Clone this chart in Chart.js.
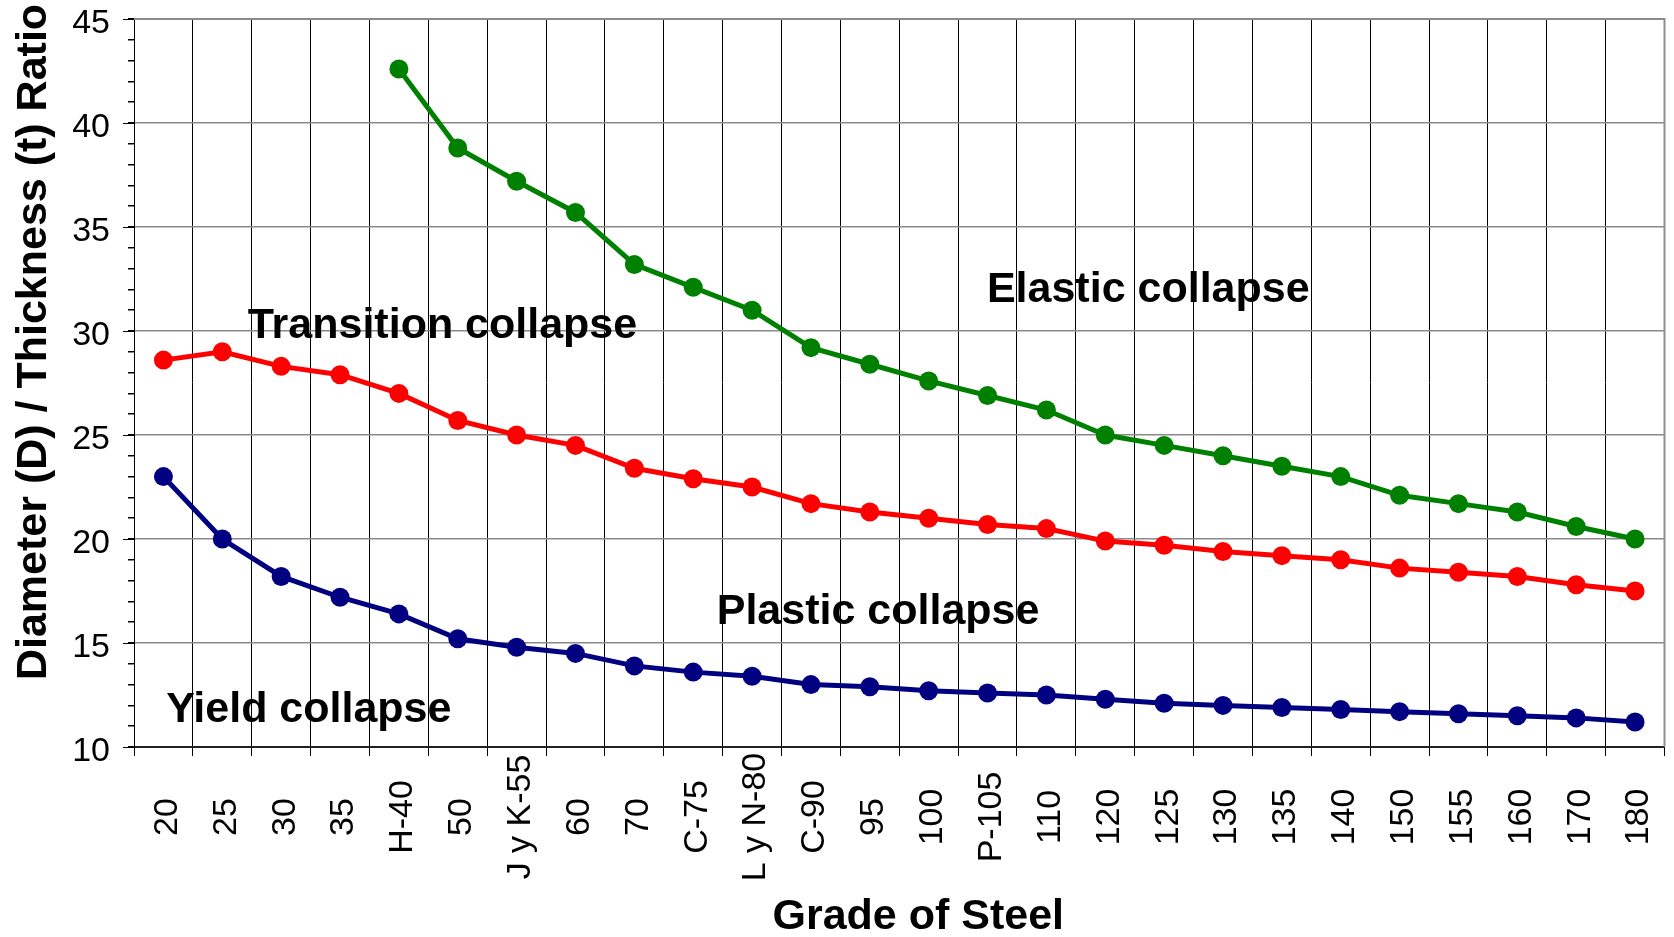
<!DOCTYPE html>
<html>
<head>
<meta charset="utf-8">
<script src="https://cdn.jsdelivr.net/npm/chart.js@4.4.1/dist/chart.umd.min.js"></script>
<style>
  html, body { margin: 0; padding: 0; background: #fff; }
  #wrap { width: 1674px; height: 937px; }
</style>
</head>
<body>
<div id="wrap"><canvas id="chart"></canvas></div>
<script>
const grades = ['20', '25', '30', '35', 'H-40', '50', 'J y K-55', '60', '70', 'C-75', 'L y N-80', 'C-90', '95', '100', 'P-105', '110', '120', '125', '130', '135', '140', '150', '155', '160', '170', '180'];
const elastic = [null, null, null, null, 42.6, 38.8, 37.2, 35.7, 33.2, 32.1, 31.0, 29.2, 28.4, 27.6, 26.9, 26.2, 25.0, 24.5, 24.0, 23.5, 23.0, 22.1, 21.7, 21.3, 20.6, 20.0];
const transition = [28.6, 29.0, 28.3, 27.9, 27.0, 25.7, 25.0, 24.5, 23.4, 22.9, 22.5, 21.7, 21.3, 21.0, 20.7, 20.5, 19.9, 19.7, 19.4, 19.2, 19.0, 18.6, 18.4, 18.2, 17.8, 17.5];
const yieldCollapse = [23.0, 20.0, 18.2, 17.2, 16.4, 15.2, 14.8, 14.5, 13.9, 13.6, 13.4, 13.0, 12.9, 12.7, 12.6, 12.5, 12.3, 12.1, 12.0, 11.9, 11.8, 11.7, 11.6, 11.5, 11.4, 11.2];
const yTicks = [10, 15, 20, 25, 30, 35, 40, 45];
const yTitle = 'Diameter (D) / Thickness (t) Ratio';
const xTitle = 'Grade of Steel';

const FONT = '"Liberation Sans", Arial, sans-serif';

// region names, placed in data space (category index, ratio)
const regions = [
    { text: 'Elastic collapse', at: [16.73, 31.95] },
    { text: 'Transition collapse', at: [4.74, 30.25] },
    { text: 'Plastic collapse', at: [12.14, 16.5] },
    { text: 'Yield collapse', at: [2.47, 11.75] }
];

const decor = {
    id: 'decor',
    afterDraw(chart) {
        const { ctx, chartArea: a, scales: { x, y } } = chart;
        ctx.save();

        // grey frame on top and right
        ctx.strokeStyle = '#8c8c8c';
        ctx.lineWidth = 2;
        ctx.beginPath();
        ctx.moveTo(a.left, a.top);
        ctx.lineTo(a.right, a.top);
        ctx.lineTo(a.right, a.bottom);
        ctx.stroke();

        // longer marks at the labelled y ticks
        ctx.strokeStyle = '#000';
        ctx.lineWidth = 1;
        yTicks.forEach(v => {
            const py = Math.round(y.getPixelForValue(v)) + 0.5;
            ctx.beginPath();
            ctx.moveTo(a.left - 11, py);
            ctx.lineTo(a.left, py);
            ctx.stroke();
        });

        ctx.fillStyle = '#000';
        ctx.textAlign = 'center';
        ctx.textBaseline = 'middle';

        // x labels, turned and centred on one line
        ctx.font = '34px ' + FONT;
        grades.forEach((g, i) => {
            ctx.save();
            ctx.translate(x.getPixelForValue(i) + 4, 817);
            ctx.rotate(-Math.PI / 2);
            ctx.fillText(g, 0, 0);
            ctx.restore();
        });

        ctx.font = 'bold 43px ' + FONT;
        // x title
        ctx.fillText(xTitle, (a.left + a.right) / 2 + 19, 917);

        // y title
        ctx.save();
        ctx.translate(34, 342);
        ctx.rotate(-Math.PI / 2);
        ctx.fillText(yTitle, 0, 0);
        ctx.restore();

        // region names
        regions.forEach(r => {
            ctx.fillText(r.text, x.getPixelForValue(r.at[0]), y.getPixelForValue(r.at[1]));
        });

        ctx.restore();
    }
};

const series = (label, data, color) => ({
    label: label,
    data: data,
    borderColor: color,
    backgroundColor: color,
    borderWidth: 5,
    pointRadius: 9.5,
    pointHoverRadius: 9.5,
    pointBorderWidth: 0,
    tension: 0,
    spanGaps: false
});

new Chart(document.getElementById('chart'), {
    type: 'line',
    data: {
        labels: grades,
        datasets: [
            series('Elastic collapse', elastic, '#008000'),
            series('Transition collapse', transition, '#ff0000'),
            series('Yield collapse', yieldCollapse, '#000080')
        ]
    },
    options: {
        responsive: true,
        maintainAspectRatio: false,
        animation: false,
        layout: { padding: { top: 19, right: 8, left: 0, bottom: 0 } },
        plugins: {
            legend: { display: false },
            tooltip: { enabled: false }
        },
        scales: {
            x: {
                type: 'category',
                offset: true,
                afterFit: (scale) => { scale.height = 190; },
                grid: { offset: true, color: '#000', lineWidth: 1, tickLength: 9, tickColor: '#000' },
                border: { color: '#222', width: 2 },
                ticks: { display: false }
            },
            y: {
                min: 10,
                max: 45,
                afterFit: (scale) => {
                    scale.width = 134;
                    scale.paddingTop = 0;
                    scale.paddingBottom = 0;
                },
                grid: {
                    color: (c) => yTicks.includes(c.tick.value) ? '#8a8a8a' : 'rgba(0,0,0,0)',
                    lineWidth: 1.5,
                    tickLength: 6,
                    tickColor: '#000'
                },
                border: { color: '#000', width: 1 },
                ticks: {
                    stepSize: 1,
                    autoSkip: false,
                    padding: 18,
                    labelOffset: 5,
                    color: '#000',
                    font: { family: FONT, size: 34 },
                    callback: (v) => yTicks.includes(v) ? String(v) : ''
                }
            }
        }
    },
    plugins: [decor]
});
</script>
</body>
</html>
